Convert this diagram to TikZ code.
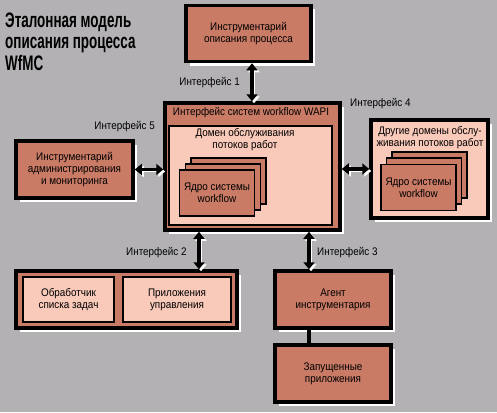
\documentclass[tikz,border=0pt]{standalone}
\usepackage{fontspec}
\setmainfont{Liberation Sans}[FakeStretch=0.9]
\newfontfamily\titlefont{Liberation Sans Bold}[FakeStretch=0.64]
\usetikzlibrary{arrows.meta,shadows}
\definecolor{bggray}{RGB}{179,177,180}
\definecolor{terra}{RGB}{201,123,102}
\definecolor{pinkish}{RGB}{249,201,185}
\tikzset{
  base/.style={rectangle, inner sep=0pt, align=center, font=\fontsize{11}{12}\selectfont},
  outerbox/.style={base, draw=black, line width=3.5pt, fill=terra,
     drop shadow={shadow xshift=4pt, shadow yshift=-4pt, fill=white, opacity=1}},
  lightbox/.style={base, draw=black, line width=1.8pt, fill=pinkish},
  card/.style={base, draw=black, line width=1.8pt, fill=terra, minimum width=75pt, minimum height=46pt},
  iface/.style={line width=3.5pt, {Triangle[width=11pt,length=7pt]}-{Triangle[width=11pt,length=7pt]},
     preaction={draw=white, transform canvas={shift={(2pt,-2pt)}}}},
  lbl/.style={font=\fontsize{11}{12}\selectfont, inner sep=0pt},
}
\begin{document}
\begin{tikzpicture}[x=1pt,y=-1pt]
\fill[bggray] (0,0) rectangle (497,412);
\useasboundingbox (0,0) rectangle (497,412);

% title
\node[anchor=north west, inner sep=0pt, align=left, font=\titlefont\fontsize{21}{21.5}\selectfont] (title) at (5,12.5)
  {Эталонная модель\\описания процесса\\WfMC};

% top box
\node[outerbox, minimum width=125pt, minimum height=56pt] (top) at (248.5,33.5)
  {Инструментарий\\описания процесса};

% main box
\node[outerbox, minimum width=175pt, minimum height=127pt] (main) at (252.5,166.5) {};
\node[lbl] (wapi) at (251,113) {Интерфейс систем workflow WAPI};
\node[lightbox, minimum width=163pt, minimum height=99pt] (dom) at (250.5,175.5) {};
\node[lbl, align=center] (domt) at (245,140) {Домен обслуживания\\потоков работ};
\node[card] (c1) at (228.5,181) {};
\node[card] (c2) at (223,187) {};
\node[card] (c3) at (217,193) {Ядро системы\\workflow};

% right box
\node[outerbox, fill=pinkish, minimum width=117pt, minimum height=98pt] (right) at (429.5,169) {};
\node[lbl, align=center] (rt) at (430,137.5) {Другие домены обслу-\\живания потоков работ};
\node[card] (r1) at (429.5,175) {};
\node[card] (r2) at (424,181) {};
\node[card] (r3) at (418.5,187.5) {Ядро системы\\workflow};

% left box
\node[outerbox, minimum width=117pt, minimum height=57pt] (left) at (74.5,169.5)
  {Инструментарий\\администрирования\\и мониторинга};

% bottom-left box
\node[outerbox, minimum width=221pt, minimum height=57pt] (bl) at (126.5,299.5) {};
\node[lightbox, minimum width=91pt, minimum height=45pt] (task) at (68.5,299.5) {Обработчик\\списка задач};
\node[lightbox, minimum width=108pt, minimum height=45pt] (mgmt) at (177,299.5) {Приложения\\управления};

% agent and launched
\node[outerbox, minimum width=116pt, minimum height=57pt] (agent) at (333,299.5) {Агент\\инструментария};
\node[outerbox, minimum width=116pt, minimum height=57pt] (launch) at (333,373.5) {Запущенные\\приложения};

% coordinates
\coordinate (i1) at (252,0);
\coordinate (i2) at (199,0);
\coordinate (i3) at (309,0);

% connectors
\draw[iface] (top.south -| i1) -- (main.north -| i1);
\draw[iface] (main.south -| i2) -- (bl.north -| i2);
\draw[iface] (main.south -| i3) -- (agent.north -| i3);
\draw[iface] (main.east |- right.west) -- (right.west);
\draw[iface] (left.east) -- (main.west |- left.east);
\draw[line width=3.5pt] (agent.south -| i3) -- (launch.north -| i3);

% labels
\node[lbl, anchor=east] (l1) at (240,83) {Интерфейс 1};
\node[lbl, anchor=west] (l2) at (126,253) {Интерфейс 2};
\node[lbl, anchor=west] (l3) at (317,253) {Интерфейс 3};
\node[lbl, anchor=west] (l4) at (350,104) {Интерфейс 4};
\node[lbl, anchor=east] (l5) at (155,127) {Интерфейс 5};
\end{tikzpicture}
\end{document}
